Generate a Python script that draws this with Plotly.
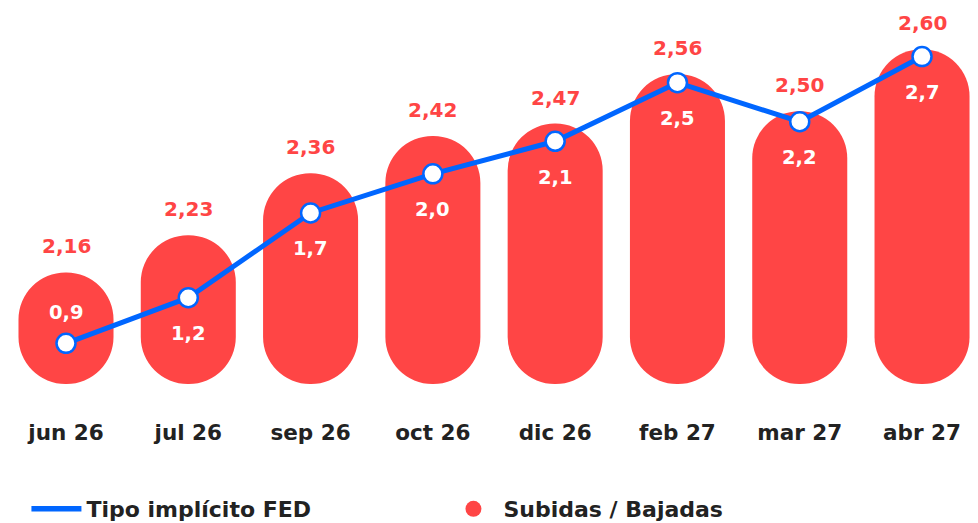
import plotly.graph_objects as go

# ---- data ----
categories = ["jun 26", "jul 26", "sep 26", "oct 26", "dic 26", "feb 27", "mar 27", "abr 27"]
subidas_bajadas = [0.9, 1.2, 1.7, 2.0, 2.1, 2.5, 2.2, 2.7]
tipo_fed = [2.16, 2.23, 2.36, 2.42, 2.47, 2.56, 2.50, 2.60]

RED = "#FF4545"
BLUE = "#0066FF"
DARK = "#222222"
FONT = "DejaVu Sans"

# page has an 8px body margin -> figure is 8px smaller than the window
W, H = 970, 515
PLOT_H = 376
Y1_RANGE = [0, 3.032]
Y2_RANGE = [2.0976, 2.6745]

def fmt(v, d):
    return f"{v:.{d}f}".replace(".", ",")

fig = go.Figure()

# pill-shaped bars (explicit base -> both ends rounded)
fig.add_trace(go.Bar(
    x=categories, y=subidas_bajadas, base=[0] * len(subidas_bajadas),
    marker=dict(color=RED, cornerradius="50%", line=dict(width=0)),
    width=0.777, showlegend=False, hoverinfo="skip", yaxis="y",
))

# line
fig.add_trace(go.Scatter(
    x=categories, y=tipo_fed, yaxis="y2", mode="lines+markers",
    line=dict(color=BLUE, width=5),
    marker=dict(size=19, color="white", line=dict(color=BLUE, width=2.5)),
    showlegend=False,
))

# legend entries
fig.add_trace(go.Scatter(
    x=[None], y=[None], mode="lines", name="Tipo implícito FED",
    line=dict(color=BLUE, width=5.5),
))
fig.add_trace(go.Scatter(
    x=[None], y=[None], mode="markers", name="Subidas / Bajadas",
    marker=dict(color=RED, size=28, symbol="circle"),
))

annotations = []
# FED labels above the bars
for c, b, l in zip(categories, subidas_bajadas, tipo_fed):
    annotations.append(dict(
        x=c, y=b, xref="x", yref="y", text=fmt(l, 2), showarrow=False,
        yanchor="middle", yshift=26,
        font=dict(family=FONT, size=20, color=RED, weight="bold"),
    ))
# bar values next to the line points (below, or above when too close to the bottom)
for c, b, l in zip(categories, subidas_bajadas, tipo_fed):
    px = (Y2_RANGE[1] - l) / (Y2_RANGE[1] - Y2_RANGE[0]) * PLOT_H
    shift = 31 if px + 36 > PLOT_H - 30 else -36
    annotations.append(dict(
        x=c, y=l, xref="x", yref="y2", text=fmt(b, 1), showarrow=False,
        yanchor="middle", yshift=shift,
        font=dict(family=FONT, size=19.5, color="white", weight="bold"),
    ))

fig.update_layout(
    width=W, height=H,
    margin=dict(l=0, r=0, t=0, b=H - PLOT_H, autoexpand=False),
    paper_bgcolor="white", plot_bgcolor="white",
    barmode="overlay",
    font=dict(family=FONT, color=DARK),
    xaxis=dict(
        type="category", range=[-0.4743, 7.4577], showgrid=False, zeroline=False,
        showline=False, ticks="", ticklabelstandoff=33,
        tickfont=dict(family=FONT, size=21.5, color=DARK, weight="bold"),
    ),
    yaxis=dict(range=Y1_RANGE, visible=False, fixedrange=True),
    yaxis2=dict(range=Y2_RANGE, visible=False, overlaying="y", fixedrange=True),
    legend=dict(
        orientation="h", x=0.019, xanchor="left", y=-0.3324, yanchor="middle",
        font=dict(family=FONT, size=22, color=DARK, weight="bold"),
        itemwidth=50, entrywidth=352, entrywidthmode="pixels",
        bgcolor="rgba(0,0,0,0)",
    ),
    annotations=annotations,
    showlegend=True,
)

fig.write_html("out.html")
